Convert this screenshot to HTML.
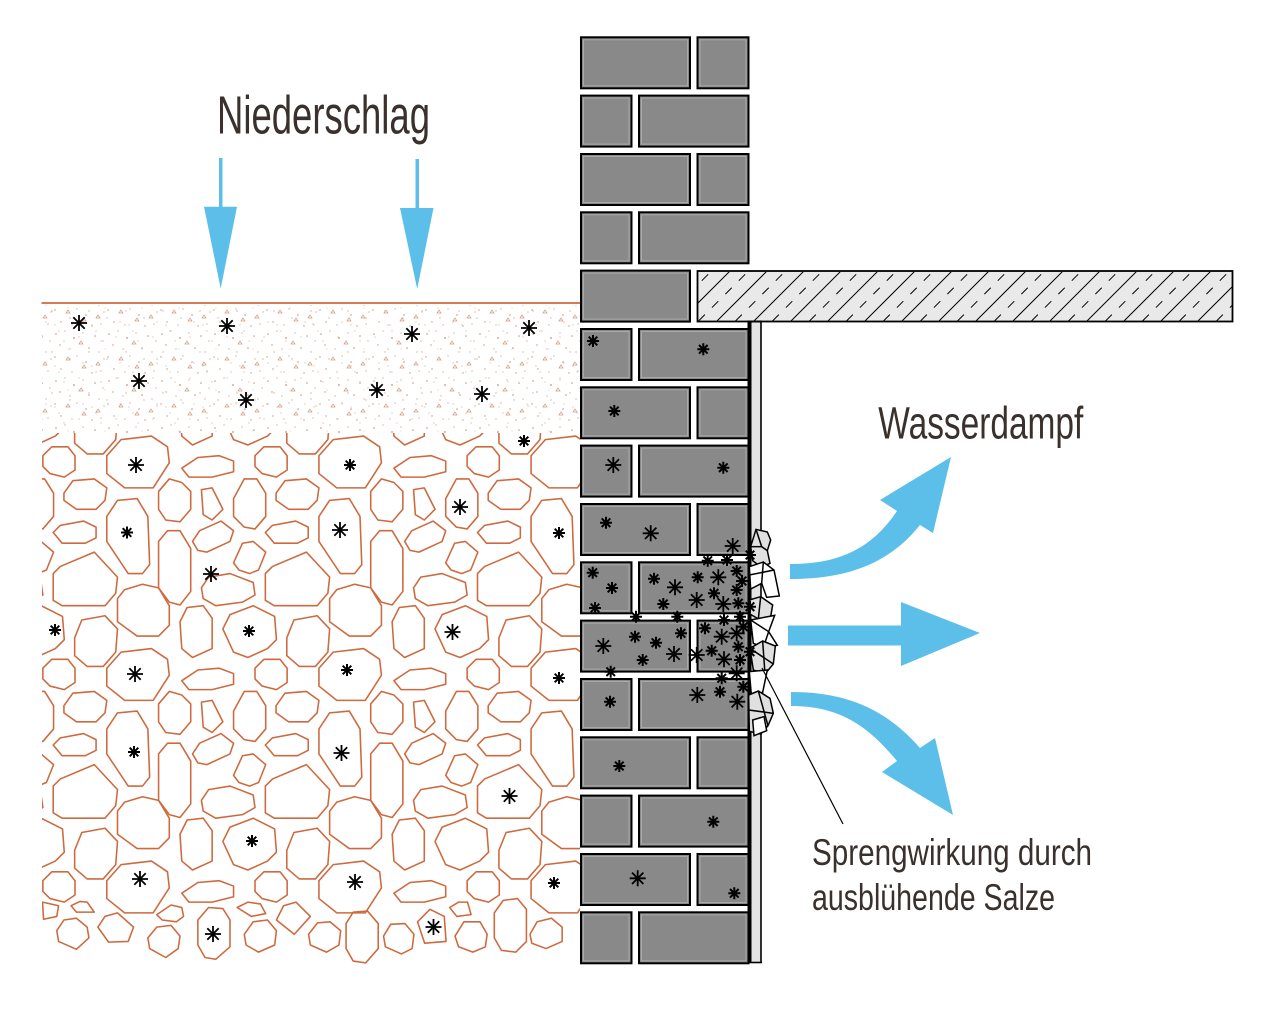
<!DOCTYPE html>
<html>
<head>
<meta charset="utf-8">
<style>
html,body{margin:0;padding:0;background:#fff;}
svg{display:block;}
text{font-family:"Liberation Sans Narrow","Liberation Sans",sans-serif;fill:#3a302c;}
</style>
</head>
<body>
<svg width="1280" height="1010" viewBox="0 0 1280 1010" xmlns="http://www.w3.org/2000/svg" xmlns:xlink="http://www.w3.org/1999/xlink">
<defs>
  <path id="aL" d="M-8,0H8M0,-8V8M-5.7,-5.7L5.7,5.7M-5.7,5.7L5.7,-5.7"/>
  <path id="aS" d="M-6,0H6M0,-6V6M-4.3,-4.3L4.3,4.3M-4.3,4.3L4.3,-4.3"/>
  <pattern id="sp1" width="53" height="47" patternUnits="userSpaceOnUse">
    <g fill="#cf8f73">
      <circle cx="3" cy="5" r="0.8"/><circle cx="12" cy="2" r="0.6"/><circle cx="21" cy="9" r="0.9"/>
      <circle cx="30" cy="4" r="0.6"/><circle cx="42" cy="7" r="0.8"/><circle cx="50" cy="12" r="0.6"/>
      <circle cx="7" cy="16" r="0.7"/><circle cx="17" cy="20" r="0.6"/><circle cx="36" cy="19" r="0.8"/>
      <circle cx="46" cy="23" r="0.6"/><circle cx="2" cy="28" r="0.7"/><circle cx="24" cy="27" r="0.6"/>
      <circle cx="33" cy="33" r="0.8"/><circle cx="51" cy="30" r="0.6"/><circle cx="8" cy="40" r="0.7"/>
      <circle cx="19" cy="43" r="0.6"/><circle cx="39" cy="44" r="0.7"/><circle cx="48" cy="42" r="0.6"/>
    </g>
    <g fill="none" stroke="#d49a80" stroke-width="0.7">
      <path d="M26,15l2,-3l2,3z"/><path d="M13,31l2,-3l2,3z"/><path d="M43,36l2,-3l2,3z"/><path d="M29,39l2,-3l2,3z"/>
    </g>
  </pattern>
  <pattern id="sp2" width="37" height="41" patternUnits="userSpaceOnUse">
    <g fill="#dcae98">
      <circle cx="5" cy="9" r="0.6"/><circle cx="15" cy="24" r="0.7"/><circle cx="27" cy="13" r="0.6"/>
      <circle cx="33" cy="31" r="0.7"/><circle cx="9" cy="35" r="0.6"/><circle cx="22" cy="3" r="0.6"/>
      <circle cx="31" cy="21" r="0.5"/><circle cx="18" cy="38" r="0.6"/>
    </g>
  </pattern>
  <clipPath id="stoneClip"><rect x="42" y="433" width="538" height="560"/></clipPath>
  <clipPath id="slabClip"><rect x="698" y="272" width="534" height="49"/></clipPath>
  <g id="rowA">
    <polygon points="215,100 255,55 340,45 385,75 390,120 345,190 265,190 215,150"/>
    <polygon points="425,135 470,105 530,100 570,115 570,145 510,160 445,160"/>
    <polygon points="630,100 655,75 700,75 720,100 720,140 690,160 650,150 630,130"/>
  </g>
  <g id="tile">
    <use xlink:href="#rowA" href="#rowA"/>
    <polygon points="95,205 120,170 180,165 215,190 210,225 185,250 130,250 95,225"/>
    <polygon points="360,200 390,165 425,175 450,200 450,250 420,285 380,280 360,250"/>
    <polygon points="480,195 510,190 540,250 510,280 485,265"/>
    <polygon points="570,220 600,165 635,165 660,205 660,270 630,305 600,300 570,270"/>
    <polygon points="215,270 245,225 300,220 330,270 335,405 315,430 275,430 215,340"/>
    <polygon points="65,315 85,295 150,283 185,300 185,330 155,345 90,345"/>
    <polygon points="360,340 385,310 420,310 450,360 450,480 420,518 390,510 360,470"/>
    <polygon points="455,340 475,310 535,283 570,310 560,340 495,370 470,365"/>
    <polygon points="570,400 595,345 625,340 660,370 640,420 615,430 585,420"/>
    <polygon points="65,430 85,410 180,370 245,440 240,485 210,520 90,520 65,505"/>
    <polygon points="480,470 500,440 560,430 625,455 630,490 595,510 520,520 485,500"/>
    <polygon points="245,500 265,475 315,460 360,470 390,520 390,575 360,605 300,605 245,565"/>
    <polygon points="420,565 440,525 485,520 510,555 510,640 455,665 425,640"/>
    <polygon points="540,585 560,545 625,520 685,550 690,615 665,640 610,665 570,650"/>
    <polygon points="125,610 145,560 210,548 245,585 240,650 205,690 160,690 125,660"/>
  </g>
</defs>

<rect width="1280" height="1010" fill="#fff"/>

<text x="217" y="133.3" font-size="53.5" textLength="213" lengthAdjust="spacingAndGlyphs">Niederschlag</text>

<g fill="#5cbfea">
  <rect x="219" y="158" width="3.5" height="50"/>
  <polygon points="204,206.7 237,206.7 220.7,288.5"/>
  <rect x="415.5" y="159" width="3.5" height="50"/>
  <polygon points="400,208 433.5,208 417.2,289"/>
</g>

<rect x="42" y="305" width="538" height="128" fill="url(#sp1)"/>
<rect x="42" y="305" width="538" height="128" fill="url(#sp2)"/>
<line x1="41.5" y1="303" x2="581" y2="303" stroke="#cf6a3c" stroke-width="1.8"/>

<g clip-path="url(#stoneClip)">
  <g transform="translate(30,420) scale(0.357143)" fill="none" stroke="#cd6a3f" stroke-width="4.4" stroke-linejoin="round">
    <use href="#tile" xlink:href="#tile" x="-594" y="-595"/>
    <use href="#tile" xlink:href="#tile" x="0" y="-595"/>
    <use href="#tile" xlink:href="#tile" x="594" y="-595"/>
    <use href="#tile" xlink:href="#tile" x="1188" y="-595"/>
    <use href="#tile" xlink:href="#tile" x="-594" y="0"/>
    <use href="#tile" xlink:href="#tile" x="0" y="0"/>
    <use href="#tile" xlink:href="#tile" x="594" y="0"/>
    <use href="#tile" xlink:href="#tile" x="1188" y="0"/>
    <use href="#tile" xlink:href="#tile" x="-594" y="595"/>
    <use href="#tile" xlink:href="#tile" x="0" y="595"/>
    <use href="#tile" xlink:href="#tile" x="594" y="595"/>
    <use href="#tile" xlink:href="#tile" x="1188" y="595"/>
    <use href="#rowA" xlink:href="#rowA" x="-594" y="1190"/>
    <use href="#rowA" xlink:href="#rowA" x="0" y="1190"/>
    <use href="#rowA" xlink:href="#rowA" x="594" y="1190"/>
    <use href="#rowA" xlink:href="#rowA" x="1188" y="1190"/>
    <polygon points="35,1350 80,1360 75,1390 38,1398"/>
    <polygon points="115,1360 140,1348 160,1350 180,1378 130,1378"/>
    <polygon points="75,1430 95,1400 130,1395 160,1420 165,1450 130,1482 80,1460"/>
    <polygon points="190,1420 210,1390 245,1380 290,1420 275,1460 220,1462"/>
    <polygon points="330,1450 355,1420 395,1415 420,1445 415,1480 380,1505 335,1480"/>
    <polygon points="355,1385 395,1358 425,1365 430,1390 410,1405 370,1400"/>
    <polygon points="470,1400 500,1365 540,1368 560,1400 560,1475 520,1510 490,1505 470,1470"/>
    <polygon points="580,1365 610,1350 645,1355 660,1382 620,1390"/>
    <polygon points="600,1440 625,1405 665,1400 690,1430 685,1470 640,1490 605,1470"/>
    <polygon points="690,1400 710,1360 745,1350 785,1390 740,1440"/>
    <polygon points="780,1440 805,1408 840,1405 870,1430 865,1470 830,1490 785,1470"/>
    <polygon points="885,1410 905,1378 945,1375 975,1410 975,1480 940,1520 905,1515 885,1480"/>
    <polygon points="990,1445 1010,1412 1050,1410 1075,1440 1070,1480 1040,1495 995,1475"/>
    <polygon points="1085,1405 1120,1370 1160,1390 1165,1460 1105,1465"/>
    <polygon points="1175,1365 1200,1350 1225,1350 1235,1385 1195,1390"/>
    <polygon points="1190,1445 1215,1405 1260,1405 1280,1440 1275,1475 1240,1490 1200,1475"/>
    <polygon points="1300,1380 1325,1345 1365,1340 1390,1370 1390,1460 1360,1490 1320,1485 1300,1450"/>
    <polygon points="1400,1440 1420,1405 1460,1395 1490,1420 1490,1460 1445,1480 1405,1465"/>
  </g>
</g>

<g fill="none" stroke="#000">
  <g stroke-width="1.8">
    <use href="#aL" xlink:href="#aL" x="79" y="323"/>
    <use href="#aL" xlink:href="#aL" x="227" y="326"/>
    <use href="#aL" xlink:href="#aL" x="412" y="334"/>
    <use href="#aL" xlink:href="#aL" x="529" y="328"/>
    <use href="#aL" xlink:href="#aL" x="139" y="381"/>
    <use href="#aL" xlink:href="#aL" x="377" y="390"/>
    <use href="#aL" xlink:href="#aL" x="482" y="394"/>
    <use href="#aL" xlink:href="#aL" x="246" y="400"/>
    <use href="#aL" xlink:href="#aL" x="136" y="465"/>
    <use href="#aL" xlink:href="#aL" x="460" y="507"/>
    <use href="#aL" xlink:href="#aL" x="340" y="530"/>
    <use href="#aL" xlink:href="#aL" x="211" y="574"/>
    <use href="#aL" xlink:href="#aL" x="452.5" y="632"/>
    <use href="#aL" xlink:href="#aL" x="135" y="674"/>
    <use href="#aL" xlink:href="#aL" x="341.5" y="753"/>
    <use href="#aL" xlink:href="#aL" x="509.5" y="796"/>
    <use href="#aL" xlink:href="#aL" x="140" y="879"/>
    <use href="#aL" xlink:href="#aL" x="355" y="882"/>
    <use href="#aL" xlink:href="#aL" x="213" y="934"/>
    <use href="#aL" xlink:href="#aL" x="433.5" y="927"/>
  </g>
  <g stroke-width="2">
    <use href="#aS" xlink:href="#aS" x="524" y="441"/>
    <use href="#aS" xlink:href="#aS" x="350" y="465"/>
    <use href="#aS" xlink:href="#aS" x="127" y="532.5"/>
    <use href="#aS" xlink:href="#aS" x="559" y="533"/>
    <use href="#aS" xlink:href="#aS" x="55" y="630"/>
    <use href="#aS" xlink:href="#aS" x="249" y="631"/>
    <use href="#aS" xlink:href="#aS" x="347" y="670"/>
    <use href="#aS" xlink:href="#aS" x="559" y="678"/>
    <use href="#aS" xlink:href="#aS" x="134" y="752"/>
    <use href="#aS" xlink:href="#aS" x="252" y="841"/>
    <use href="#aS" xlink:href="#aS" x="554" y="883"/>
  </g>
</g>

<rect x="697.5" y="271" width="535" height="50.5" fill="#e9e9e9" stroke="#000" stroke-width="1.8"/>
<g clip-path="url(#slabClip)" stroke="#000" stroke-width="1" fill="none">
  <path d="M680,321l50,-50M717,321l50,-50M754,321l50,-50M791,321l50,-50M828,321l50,-50M865,321l50,-50M902,321l50,-50M939,321l50,-50M976,321l50,-50M1013,321l50,-50M1050,321l50,-50M1087,321l50,-50M1124,321l50,-50M1161,321l50,-50M1198,321l50,-50M1235,321l50,-50"/>
  <path stroke-dasharray="9,10" d="M661.5,321l50,-50M698.5,321l50,-50M735.5,321l50,-50M772.5,321l50,-50M809.5,321l50,-50M846.5,321l50,-50M883.5,321l50,-50M920.5,321l50,-50M957.5,321l50,-50M994.5,321l50,-50M1031.5,321l50,-50M1068.5,321l50,-50M1105.5,321l50,-50M1142.5,321l50,-50M1179.5,321l50,-50M1216.5,321l50,-50"/>
</g>

<rect x="750" y="321.5" width="11" height="641" fill="#e3e3e3"/>
<line x1="761" y1="321" x2="761" y2="963" stroke="#000" stroke-width="1.6"/>
<line x1="747.5" y1="321.5" x2="762" y2="321.5" stroke="#000" stroke-width="2"/>
<line x1="747.5" y1="962.5" x2="762" y2="962.5" stroke="#000" stroke-width="1.6"/>

<g fill="#898989" stroke="#000" stroke-width="2">
  <rect x="581" y="37.3" width="109" height="51"/><rect x="697.5" y="37.3" width="51" height="51"/>
  <rect x="581" y="95.6" width="50.5" height="51"/><rect x="639" y="95.6" width="109.5" height="51"/>
  <rect x="581" y="154" width="109" height="51"/><rect x="697.5" y="154" width="51" height="51"/>
  <rect x="581" y="212.3" width="50.5" height="51"/><rect x="639" y="212.3" width="109.5" height="51"/>
  <rect x="581" y="270.6" width="109" height="51"/>
  <rect x="581" y="329" width="50.5" height="51"/><rect x="639" y="329" width="109.5" height="51"/>
  <rect x="581" y="387.3" width="109" height="51"/><rect x="697.5" y="387.3" width="51" height="51"/>
  <rect x="581" y="445.6" width="50.5" height="51"/><rect x="639" y="445.6" width="109.5" height="51"/>
  <rect x="581" y="504" width="109" height="51"/><rect x="697.5" y="504" width="51" height="51"/>
  <rect x="581" y="562.3" width="50.5" height="51"/><rect x="639" y="562.3" width="109.5" height="51"/>
  <rect x="581" y="620.6" width="109" height="51"/><rect x="697.5" y="620.6" width="51" height="51"/>
  <rect x="581" y="679" width="50.5" height="51"/><rect x="639" y="679" width="109.5" height="51"/>
  <rect x="581" y="737.3" width="109" height="51"/><rect x="697.5" y="737.3" width="51" height="51"/>
  <rect x="581" y="795.6" width="50.5" height="51"/><rect x="639" y="795.6" width="109.5" height="51"/>
  <rect x="581" y="854" width="109" height="51"/><rect x="697.5" y="854" width="51" height="51"/>
  <rect x="581" y="912.3" width="50.5" height="51"/><rect x="639" y="912.3" width="109.5" height="51"/>
</g>
<g fill="none" stroke="#a9a9a9" stroke-width="1">
  <rect x="583.5" y="39.8" width="104" height="46"/><rect x="700" y="39.8" width="46" height="46"/>
  <rect x="583.5" y="98.1" width="45.5" height="46"/><rect x="641.5" y="98.1" width="104.5" height="46"/>
  <rect x="583.5" y="156.5" width="104" height="46"/><rect x="700" y="156.5" width="46" height="46"/>
  <rect x="583.5" y="214.8" width="45.5" height="46"/><rect x="641.5" y="214.8" width="104.5" height="46"/>
  <rect x="583.5" y="273.1" width="104" height="46"/>
  <rect x="583.5" y="331.5" width="45.5" height="46"/><rect x="641.5" y="331.5" width="104.5" height="46"/>
  <rect x="583.5" y="389.8" width="104" height="46"/><rect x="700" y="389.8" width="46" height="46"/>
  <rect x="583.5" y="448.1" width="45.5" height="46"/><rect x="641.5" y="448.1" width="104.5" height="46"/>
  <rect x="583.5" y="506.5" width="104" height="46"/><rect x="700" y="506.5" width="46" height="46"/>
  <rect x="583.5" y="564.8" width="45.5" height="46"/><rect x="641.5" y="564.8" width="104.5" height="46"/>
  <rect x="583.5" y="623.1" width="104" height="46"/><rect x="700" y="623.1" width="46" height="46"/>
  <rect x="583.5" y="681.5" width="45.5" height="46"/><rect x="641.5" y="681.5" width="104.5" height="46"/>
  <rect x="583.5" y="739.8" width="104" height="46"/><rect x="700" y="739.8" width="46" height="46"/>
  <rect x="583.5" y="798.1" width="45.5" height="46"/><rect x="641.5" y="798.1" width="104.5" height="46"/>
  <rect x="583.5" y="856.5" width="104" height="46"/><rect x="700" y="856.5" width="46" height="46"/>
  <rect x="583.5" y="914.8" width="45.5" height="46"/><rect x="641.5" y="914.8" width="104.5" height="46"/>
</g>
<rect x="747.5" y="321" width="4" height="642" fill="#000"/>

<g transform="translate(730,520) scale(0.33333)" stroke="#000" stroke-width="4.5">
  <polygon fill="#e0e0e0" points="62,80 78,28 112,36 122,60 112,92 120,130 95,142 68,122"/>
  <polyline fill="none" points="78,28 95,80 112,92"/><polyline fill="none" points="62,80 95,80"/>
  <polygon fill="#fff" points="58,140 100,126 132,150 148,228 110,232 95,190 62,207"/>
  <polyline fill="none" points="100,126 95,190"/><polyline fill="none" points="58,165 132,150"/>
  <polygon fill="#e0e0e0" points="58,240 92,230 128,255 120,302 85,297 60,282"/>
  <polyline fill="none" points="92,230 85,297"/>
  <polygon fill="#fff" points="62,300 134,286 116,335 142,376 100,382 70,370"/>
  <polyline fill="none" points="62,300 116,335 100,382"/>
  <polygon fill="#e0e0e0" points="60,385 98,363 136,378 130,432 105,462 70,450"/>
  <polyline fill="none" points="60,385 130,432"/><polyline fill="none" points="98,363 105,462"/>
  <polygon fill="#fff" points="58,455 112,450 98,517 64,524"/>
  <polygon fill="#e0e0e0" points="56,525 85,513 120,535 130,580 114,617 92,642 58,634"/>
  <polyline fill="none" points="85,513 114,617"/><polyline fill="none" points="56,570 130,580"/>
  <polygon fill="#fff" points="68,600 102,590 110,632 72,647"/>
</g>

<g fill="none" stroke="#000">
  <g stroke-width="1.8">
    <use href="#aL" xlink:href="#aL" x="613.3" y="465"/>
    <use href="#aL" xlink:href="#aL" x="650.7" y="533.3"/>
    <use href="#aL" xlink:href="#aL" x="732.7" y="546"/>
    <use href="#aL" xlink:href="#aL" x="675" y="587.3"/>
    <use href="#aL" xlink:href="#aL" x="718.3" y="577.3"/>
    <use href="#aL" xlink:href="#aL" x="696.7" y="600"/>
    <use href="#aL" xlink:href="#aL" x="723.3" y="604"/>
    <use href="#aL" xlink:href="#aL" x="603.3" y="646"/>
    <use href="#aL" xlink:href="#aL" x="674" y="654"/>
    <use href="#aL" xlink:href="#aL" x="696.7" y="655"/>
    <use href="#aL" xlink:href="#aL" x="721.7" y="636.7"/>
    <use href="#aL" xlink:href="#aL" x="736.7" y="633.3"/>
    <use href="#aL" xlink:href="#aL" x="724" y="659.3"/>
    <use href="#aL" xlink:href="#aL" x="736.7" y="673.3"/>
    <use href="#aL" xlink:href="#aL" x="697.3" y="695"/>
    <use href="#aL" xlink:href="#aL" x="737.3" y="701.7"/>
    <use href="#aL" xlink:href="#aL" x="637.7" y="878.3"/>
  </g>
  <g stroke-width="2">
    <use href="#aS" xlink:href="#aS" x="593" y="341"/>
    <use href="#aS" xlink:href="#aS" x="703.3" y="349.3"/>
    <use href="#aS" xlink:href="#aS" x="614.3" y="411"/>
    <use href="#aS" xlink:href="#aS" x="723.3" y="467.7"/>
    <use href="#aS" xlink:href="#aS" x="606" y="522.7"/>
    <use href="#aS" xlink:href="#aS" x="750" y="555"/>
    <use href="#aS" xlink:href="#aS" x="707.7" y="560.7"/>
    <use href="#aS" xlink:href="#aS" x="727" y="560"/>
    <use href="#aS" xlink:href="#aS" x="592.7" y="572.7"/>
    <use href="#aS" xlink:href="#aS" x="612" y="588"/>
    <use href="#aS" xlink:href="#aS" x="595" y="608"/>
    <use href="#aS" xlink:href="#aS" x="654" y="578.7"/>
    <use href="#aS" xlink:href="#aS" x="697.7" y="577.3"/>
    <use href="#aS" xlink:href="#aS" x="736.7" y="571"/>
    <use href="#aS" xlink:href="#aS" x="742" y="581"/>
    <use href="#aS" xlink:href="#aS" x="663.3" y="604"/>
    <use href="#aS" xlink:href="#aS" x="714" y="593.3"/>
    <use href="#aS" xlink:href="#aS" x="736.7" y="590"/>
    <use href="#aS" xlink:href="#aS" x="738.3" y="603.3"/>
    <use href="#aS" xlink:href="#aS" x="750" y="606.7"/>
    <use href="#aS" xlink:href="#aS" x="636" y="616.7"/>
    <use href="#aS" xlink:href="#aS" x="677.3" y="616.7"/>
    <use href="#aS" xlink:href="#aS" x="724" y="620"/>
    <use href="#aS" xlink:href="#aS" x="740" y="616.7"/>
    <use href="#aS" xlink:href="#aS" x="635" y="636.7"/>
    <use href="#aS" xlink:href="#aS" x="656" y="642.7"/>
    <use href="#aS" xlink:href="#aS" x="681" y="633.3"/>
    <use href="#aS" xlink:href="#aS" x="642.7" y="660"/>
    <use href="#aS" xlink:href="#aS" x="705" y="628.3"/>
    <use href="#aS" xlink:href="#aS" x="711.7" y="650.7"/>
    <use href="#aS" xlink:href="#aS" x="738.3" y="646.7"/>
    <use href="#aS" xlink:href="#aS" x="743.3" y="626.7"/>
    <use href="#aS" xlink:href="#aS" x="740" y="660"/>
    <use href="#aS" xlink:href="#aS" x="750" y="651.7"/>
    <use href="#aS" xlink:href="#aS" x="610.7" y="671.7"/>
    <use href="#aS" xlink:href="#aS" x="721.7" y="678.3"/>
    <use href="#aS" xlink:href="#aS" x="610" y="701.7"/>
    <use href="#aS" xlink:href="#aS" x="720" y="691.7"/>
    <use href="#aS" xlink:href="#aS" x="743.3" y="686.7"/>
    <use href="#aS" xlink:href="#aS" x="619.3" y="766"/>
    <use href="#aS" xlink:href="#aS" x="713.3" y="821.7"/>
    <use href="#aS" xlink:href="#aS" x="734.3" y="893.3"/>
  </g>
</g>

<g fill="#5cbfea">
  <path d="M790,564 C840,564 872,548 897,511 L880,500 L951,457 L933,533 L920,525 C888,565 845,579 790,579 Z"/>
  <path d="M788,625.5 H901 V602 L980,633 L901,666 V645.5 H788 Z"/>
  <path d="M791,692 C845,692 885,708 920,748 L935,738 L953,815 L882,772 L897,761 C868,726 840,706 791,706 Z"/>
</g>

<line x1="762" y1="668" x2="843" y2="824" stroke="#000" stroke-width="1.2"/>

<text x="878.3" y="438.3" font-size="45.7" textLength="205" lengthAdjust="spacingAndGlyphs">Wasserdampf</text>
<text x="812" y="865" font-size="36.6" textLength="280" lengthAdjust="spacingAndGlyphs">Sprengwirkung durch</text>
<text x="812" y="910" font-size="36.6" textLength="243" lengthAdjust="spacingAndGlyphs">ausblühende Salze</text>
</svg>
</body>
</html>
